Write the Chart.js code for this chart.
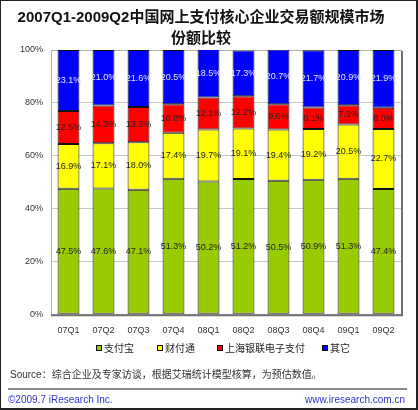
<!DOCTYPE html>
<html>
<head>
<meta charset="utf-8">
<script src="https://cdn.jsdelivr.net/npm/chart.js@4"></script>
<style>
  body { margin: 0; background: #fff; }
  #wrap { position: relative; width: 418px; height: 410px; box-sizing: border-box; border: 1px solid #222; border-right-width: 2px; border-bottom-width: 2px; }
  #wrap canvas { position: absolute; left: 0; top: 0; }
  .txt { position: absolute; font-family: "Liberation Sans", "Noto Sans CJK SC", sans-serif; white-space: nowrap; }
  #legend { position: absolute; left: 0; top: 341px; width: 100%; height: 14px; font-family: "Liberation Sans", "Noto Sans CJK SC", sans-serif; font-size: 10px; color: #222; }
  #legend span.item { position: absolute; top: 0; line-height: 14px; white-space: nowrap; }
  #legend i { display: inline-block; width: 4px; height: 4px; border: 1px solid #111; margin-right: 2px; vertical-align: 1px; }
  #source { left: 9px; top: 365px; font-size: 10px; color: #333; }
  #rule { position: absolute; left: 7px; width: 399px; top: 387px; height: 0; border-top: 2px solid #8a8a8a; }
  #copy { left: 7px; top: 393px; font-size: 10px; color: #3333cc; }
  #site { right: 11px; top: 393px; font-size: 10px; color: #3333cc; }
</style>
</head>
<body>
<div id="wrap">
  <canvas id="barChart" width="416" height="408"></canvas>
  <div id="legend"></div>
  <div class="txt" id="source">Source：综合企业及专家访谈，根据艾瑞统计模型核算，为预估数值。</div>
  <div id="rule"></div>
  <div class="txt" id="copy">©2009.7 iResearch Inc.</div>
  <div class="txt" id="site">www.iresearch.com.cn</div>
</div>
<script>
const QUARTERS = ["07Q1", "07Q2", "07Q3", "07Q4", "08Q1", "08Q2", "08Q3", "08Q4", "09Q1", "09Q2"]
const SERIES = ["支付宝", "财付通", "上海银联电子支付", "其它"]
const ALIPAY = [47.5, 47.6, 47.1, 51.3, 50.2, 51.2, 50.5, 50.9, 51.3, 47.4]
const TENPAY = [16.9, 17.1, 18.0, 17.4, 19.7, 19.1, 19.4, 19.2, 20.5, 22.7]
const CHINAPAY = [12.5, 14.3, 13.3, 10.8, 12.1, 12.2, 9.6, 8.1, 7.3, 8.0]
const OTHERS = [23.1, 21.0, 21.6, 20.5, 18.5, 17.3, 20.7, 21.7, 20.9, 21.9]
const Y_TICKS = [0, 20, 40, 60, 80, 100]

const FONT = "'Liberation Sans', 'Noto Sans CJK SC', sans-serif"
const COLORS = ["#99cc00", "#ffff00", "#ff0000", "#0000ff"]
const LABEL_COLORS = ["#222", "#222", "#222", "#e6e6ff"]
const LEGEND_X = [95, 156, 216, 321]

//legend made by hand, the chart one spreads too much vertically
const legendBox = document.getElementById("legend")
SERIES.forEach((name, i) => {
    const item = document.createElement("span")
    item.className = "item"
    item.style.left = LEGEND_X[i] + "px"
    item.innerHTML = `<i style="background:${COLORS[i]}"></i>${name}`
    legendBox.appendChild(item)
})

//draws the value in the middle of each bar piece
const valueLabels = {
    id: "valueLabels",
    afterDatasetsDraw(chart) {
        const ctx = chart.ctx
        ctx.save()
        ctx.font = "9px " + FONT
        ctx.textAlign = "center"
        ctx.textBaseline = "middle"
        chart.data.datasets.forEach((ds, i) => {
            chart.getDatasetMeta(i).data.forEach((bar, j) => {
                const p = bar.getProps(["x", "y", "base"], true)
                ctx.fillStyle = LABEL_COLORS[i]
                ctx.fillText(ds.data[j].toFixed(1) + "%", p.x, (p.y + p.base) / 2)
            })
        })
        ctx.restore()
    }
}

//gray frame around the plot with a little shadow on right and bottom
const plotFrame = {
    id: "plotFrame",
    beforeDatasetsDraw(chart) {
        const a = chart.chartArea
        const ctx = chart.ctx
        ctx.save()
        ctx.strokeStyle = "#b0b0b0"
        ctx.lineWidth = 1
        ctx.strokeRect(a.left + 0.5, a.top + 0.5, a.right - a.left, a.bottom - a.top)
        ctx.strokeStyle = "#707070"
        ctx.lineWidth = 2
        ctx.beginPath()
        ctx.moveTo(a.right + 1, a.top + 1)
        ctx.lineTo(a.right + 1, a.bottom + 1)
        ctx.lineTo(a.left, a.bottom + 1)
        ctx.stroke()
        ctx.restore()
    }
}

const DATA = [ALIPAY, TENPAY, CHINAPAY, OTHERS]

new Chart(document.getElementById("barChart").getContext("2d"), {
    type: "bar",
    data: {
        labels: QUARTERS,
        datasets: SERIES.map((name, i) => ({
            label: name,
            data: DATA[i],
            backgroundColor: COLORS[i],
            borderColor: "#111",
            borderWidth: 1,
            borderSkipped: false,
            categoryPercentage: 1,
            barPercentage: 0.625
        }))
    },
    options: {
        responsive: false,
        animation: false,
        layout: { padding: { left: 0, right: 16, top: 4, bottom: 70 } },
        plugins: {
            title: {
                display: true,
                text: ["2007Q1-2009Q2中国网上支付核心企业交易额规模市场", "份额比较"],
                color: "#111",
                font: { family: FONT, size: 15, weight: "bold", lineHeight: 1.4 },
                padding: { top: 2, bottom: 1 }
            },
            legend: { display: false },
            tooltip: { enabled: false }
        },
        scales: {
            x: {
                stacked: true,
                grid: { display: false },
                border: { display: false },
                ticks: { color: "#333", font: { family: FONT, size: 9 }, padding: 3 }
            },
            y: {
                stacked: true,
                min: 0,
                max: 100,
                afterFit: (s) => { s.width = 50 },
                afterBuildTicks: (s) => { s.ticks = Y_TICKS.map((v) => ({ value: v })) },
                grid: {
                    color: (c) => (c.tick && (c.tick.value === 0 || c.tick.value === 100)) ? "rgba(0,0,0,0)" : "#c8c8c8",
                    drawTicks: false
                },
                border: { display: false },
                ticks: {
                    color: "#333",
                    padding: 8,
                    font: { family: FONT, size: 9 },
                    callback: (v) => v + "%"
                }
            }
        }
    },
    plugins: [plotFrame, valueLabels]
})
</script>
</body>
</html>
